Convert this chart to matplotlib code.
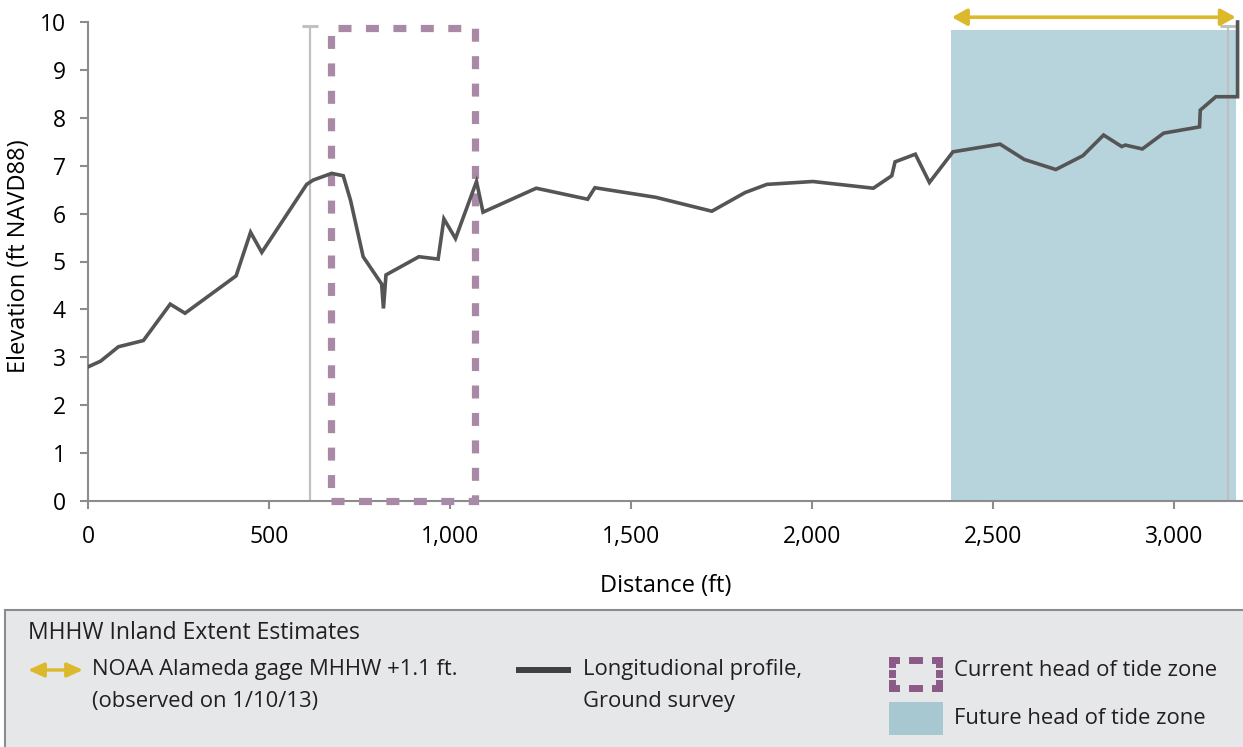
import matplotlib
matplotlib.use("Agg")
import matplotlib.pyplot as plt
from matplotlib.patches import Rectangle, FancyArrowPatch
from matplotlib.lines import Line2D
from matplotlib.ticker import FuncFormatter

plt.rcParams['font.family'] = ['Open Sans', 'DejaVu Sans']

# Longitudinal profile (ground survey)
distance_ft = [0, 35, 84, 153, 227, 268, 409, 449, 480, 604, 622, 673, 705, 725, 760,
               811, 816, 823, 914, 967, 983, 1015, 1073, 1091, 1238, 1380, 1400, 1568,
               1723, 1815, 1875, 2002, 2169, 2220, 2229, 2285, 2324, 2389, 2519, 2586,
               2673, 2748, 2805, 2855, 2865, 2912, 2971, 3070, 3072, 3115, 3175, 3175]
elevation_ft = [2.80, 2.92, 3.22, 3.35, 4.11, 3.92, 4.70, 5.61, 5.19, 6.61, 6.70, 6.84, 6.79,
                6.28, 5.10, 4.53, 4.02, 4.72, 5.10, 5.05, 5.89, 5.48, 6.67, 6.03, 6.53, 6.30,
                6.54, 6.34, 6.05, 6.44, 6.61, 6.67, 6.53, 6.79, 7.08, 7.24, 6.65, 7.29, 7.45,
                7.13, 6.92, 7.21, 7.64, 7.40, 7.43, 7.35, 7.68, 7.81, 8.16, 8.44, 8.44, 10.0]

# Markers / zones
gray_lines_x = [613, 3148]
gray_lines_top = 9.92
current_zone = (672, 1069)   # x range
current_zone_top = 9.87
future_zone = (2384, 3170)
future_zone_top = 9.83
noaa_arrow = (2386, 3170)
noaa_arrow_y = 10.1

x_ticks = [0, 500, 1000, 1500, 2000, 2500, 3000]
y_ticks = list(range(0, 11))

legend_title = 'MHHW Inland Extent Estimates'
legend_labels = ['NOAA Alameda gage MHHW +1.1 ft.\n(observed on 1/10/13)',
                 'Longitudional profile,\nGround survey',
                 'Current head of tide zone',
                 'Future head of tide zone']

W, H = 1243, 747
fig = plt.figure(figsize=(W / 100, H / 100), dpi=100)
ax = fig.add_axes([88 / W, 1 - 501 / H, (1243 - 88) / W, (501 - 12) / H])
ax.set_xlim(0, 3190)
ax.set_ylim(0, (501 - 12) / 47.9)

line_color = '#555555'
purple = '#a98aa6'
blue = '#b7d4dc'
yellow = '#dbb92b'
lgray = '#c0c0c0'
axis_gray = '#8c8c8c'

# future zone
ax.add_patch(Rectangle((future_zone[0], 0), future_zone[1] - future_zone[0], future_zone_top,
                       facecolor=blue, edgecolor='none', zorder=1))
# gray vertical lines with caps
for gx in gray_lines_x:
    ax.plot([gx, gx], [0, gray_lines_top], color=lgray, lw=1.6, zorder=2, solid_capstyle='butt')
    ax.plot([gx - 22, gx + 22], [gray_lines_top, gray_lines_top], color=lgray, lw=2.2, zorder=2,
            solid_capstyle='butt')
# current zone dashed rectangle
ax.add_patch(Rectangle((current_zone[0], 0), current_zone[1] - current_zone[0], current_zone_top,
                       facecolor='none', edgecolor=purple, lw=5.2,
                       linestyle=(0, (1.8, 2.0)), zorder=3, clip_on=False))
# profile
ax.plot(distance_ft, elevation_ft, color=line_color, lw=2.6, zorder=4, solid_joinstyle='miter')
# NOAA arrow
ax.annotate('', xy=(noaa_arrow[1], noaa_arrow_y), xytext=(noaa_arrow[0], noaa_arrow_y),
            arrowprops=dict(arrowstyle='<|-|>,head_length=0.9,head_width=0.5', color=yellow,
                            lw=2.6, shrinkA=0, shrinkB=0), annotation_clip=False, zorder=5)

for s in ['top', 'right']:
    ax.spines[s].set_visible(False)
for s in ['left', 'bottom']:
    ax.spines[s].set_color(axis_gray)
    ax.spines[s].set_linewidth(1.5)
ax.spines['left'].set_bounds(0, 10)
ax.set_xticks(x_ticks)
ax.set_yticks(y_ticks)
ax.xaxis.set_major_formatter(FuncFormatter(lambda v, p: f'{int(v):,}'))
ax.tick_params(axis='both', colors=axis_gray, length=6, width=1.5, labelcolor='black',
               labelsize=16.5)
ax.tick_params(axis='x', pad=11)
ax.tick_params(axis='y', pad=10)
ax.set_xlabel('Distance (ft)', fontsize=17, labelpad=18)
ax.set_ylabel('Elevation (ft NAVD88)', fontsize=17, labelpad=6)

# Legend box
fig.patches.append(Rectangle((5 / W, -0.01), 1 - 5 / W + 0.01, (747 - 610) / H + 0.01,
                             transform=fig.transFigure, zorder=0,
                             facecolor='#e6e7e8', edgecolor='#8c8c8c', lw=1.5))


def fy(py):
    return 1 - py / H


def fx(px):
    return px / W


fs = 15.8
tc = '#231f20'
fig.text(fx(28), fy(633), legend_title, fontsize=16.5, va='center', ha='left', color=tc)
fig.add_artist(FancyArrowPatch((fx(28), fy(670)), (fx(83), fy(670)),
               transform=fig.transFigure, arrowstyle='<|-|>,head_length=0.95,head_width=0.43',
               mutation_scale=10, color=yellow, lw=2.4, shrinkA=0, shrinkB=0, zorder=5))
l1, l2 = legend_labels[0].split('\n')
fig.text(fx(92), fy(670), l1, fontsize=fs, va='center', color=tc)
fig.text(fx(92), fy(702), l2, fontsize=fs, va='center', color=tc)
fig.add_artist(Line2D([fx(516), fx(571)], [fy(670), fy(670)], transform=fig.transFigure,
                      color='#404040', lw=4.3, solid_capstyle='butt', zorder=5))
l1, l2 = legend_labels[1].split('\n')
fig.text(fx(583), fy(670), l1, fontsize=fs, va='center', color=tc)
fig.text(fx(583), fy(702), l2, fontsize=fs, va='center', color=tc)

# legend dashed box (corners + middle dashes)
dpurple = '#8b5a87'
x0, x1, y0, y1 = 891.5, 939.5, 659.5, 687.5
xm, ym = (x0 + x1) / 2, (y0 + y1) / 2
segs = [
    ([x0, x0 + 4.5], [y0, y0]), ([x0, x0], [y0, y0 + 4.5]),
    ([x1 - 4.5, x1], [y0, y0]), ([x1, x1], [y0, y0 + 4.5]),
    ([x0, x0 + 4.5], [y1, y1]), ([x0, x0], [y1 - 4.5, y1]),
    ([x1 - 4.5, x1], [y1, y1]), ([x1, x1], [y1 - 4.5, y1]),
    ([xm - 3.5, xm + 3.5], [y0, y0]),
    ([xm - 3.5, xm + 3.5], [y1, y1]),
    ([x0, x0], [ym - 0.2, ym + 0.2]),
    ([x1, x1], [ym - 0.2, ym + 0.2]),
]
for xs, ys in segs:
    fig.add_artist(Line2D([fx(v) for v in xs], [fy(v) for v in ys], transform=fig.transFigure,
                          color=dpurple, lw=5, solid_capstyle='projecting', zorder=5))
fig.text(fx(954), fy(671), legend_labels[2], fontsize=fs, va='center', color=tc)
fig.patches.append(Rectangle((fx(889), fy(735)), fx(943) - fx(889), fy(702) - fy(735),
                             transform=fig.transFigure, facecolor='#a8c8d1', edgecolor='none',
                             zorder=1))
fig.text(fx(954), fy(718), legend_labels[3], fontsize=fs, va='center', color=tc)

fig.savefig('out.png', dpi=100)
